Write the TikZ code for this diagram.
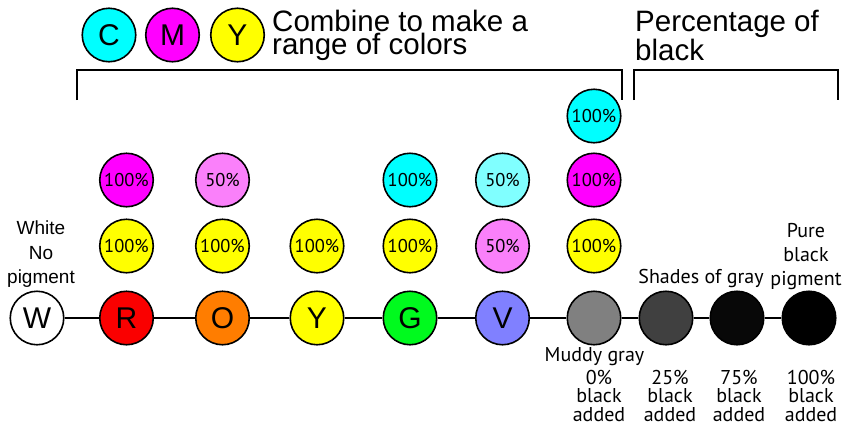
\documentclass[tikz,border=0pt]{standalone}
\usepackage{fontspec}
\setmainfont{Liberation Sans}
\newfontfamily\labelfont{PT Sans}

\definecolor{inkcyan}{RGB}{0,255,255}
\definecolor{inkmagenta}{RGB}{255,0,255}
\definecolor{inkyellow}{RGB}{255,255,0}
\definecolor{halfcyan}{RGB}{128,255,255}
\definecolor{halfmagenta}{RGB}{250,128,250}
\definecolor{mixred}{RGB}{250,0,0}
\definecolor{mixorange}{RGB}{255,125,0}
\definecolor{mixgreen}{RGB}{0,250,30}
\definecolor{mixviolet}{RGB}{128,128,255}
\definecolor{muddy}{RGB}{128,128,128}
\definecolor{shade25}{RGB}{64,64,64}
\definecolor{shade75}{RGB}{8,8,8}

\begin{document}
\begin{tikzpicture}[x=1pt,y=-1pt,
    dot/.style={shape=circle,draw,line width=1.6pt,minimum size=53.5pt,inner sep=0pt,
                font=\fontsize{30}{30}\selectfont},
    ink/.style={shape=circle,draw,line width=1.6pt,minimum size=53.5pt,inner sep=0pt,
                font=\labelfont\fontsize{18.5}{18.5}\selectfont},
    title/.style={anchor=north west,align=left,inner sep=0pt,
                  font=\fontsize{29.5}{23}\selectfont},
    note/.style={align=center,inner sep=0pt,font=\labelfont\fontsize{20}{18.5}\selectfont},
    bracket/.style={line width=1.8pt}]
    \useasboundingbox (0,0) rectangle (843,429);

    % CMY key
    \node[dot,fill=inkcyan] (c) at (109,35) {C};
    \node[dot,fill=inkmagenta] (m) at (172.5,35) {M};
    \node[dot,fill=inkyellow] (y) at (237.5,35) {Y};
    \node[title] (combine) at (272,10) {Combine to make a\\range of colors};
    \node[title] (percent) at (635,10) {Percentage of\\black};
    \draw[bracket] (77,100) -- (77,70) -- (622,70) -- (622,100);
    \draw[bracket] (634,100) -- (634,70) -- (838,70) -- (838,100);

    % main row
    \node[dot,fill=white] (w) at (37,318) {W};
    \node[dot,fill=mixred] (r) at (126.5,318) {R};
    \node[dot,fill=mixorange] (o) at (222.5,318) {O};
    \node[dot,fill=inkyellow] (yl) at (317,318) {Y};
    \node[dot,fill=mixgreen] (g) at (410,318) {G};
    \node[dot,fill=mixviolet] (v) at (502.5,318) {V};
    \node[dot,fill=muddy] (mu) at (594,318) {};
    \node[dot,fill=shade25] (k25) at (666,318) {};
    \node[dot,fill=shade75] (k75) at (737,318) {};
    \node[dot,fill=black] (k100) at (809,318) {};
    \draw[line width=1.6pt] (w) -- (r) -- (o) -- (yl) -- (g) -- (v) -- (mu) -- (k25) -- (k75) -- (k100);

    % ink amounts
    \node[ink,fill=inkyellow] (ry) at (126.5,246) {100\%};
    \node[ink,fill=inkmagenta] (rm) at (126.5,180) {100\%};
    \node[ink,fill=inkyellow] (oy) at (222.5,246) {100\%};
    \node[ink,fill=halfmagenta] (om) at (222.5,180) {50\%};
    \node[ink,fill=inkyellow] (yy) at (317,246) {100\%};
    \node[ink,fill=inkyellow] (gy) at (410,246) {100\%};
    \node[ink,fill=inkcyan] (gc) at (410,180) {100\%};
    \node[ink,fill=halfmagenta] (vm) at (502.5,246) {50\%};
    \node[ink,fill=halfcyan] (vc) at (502.5,180) {50\%};
    \node[ink,fill=inkyellow] (muy) at (594,246) {100\%};
    \node[ink,fill=inkmagenta] (mum) at (594,180) {100\%};
    \node[ink,fill=inkcyan] (muc) at (594,116) {100\%};

    % labels
    \node[note,anchor=north,font=\fontsize{19}{24.5}\selectfont] (white) at (41,221) {White\\No\\pigment};
    \node[note,anchor=base] (shades) at (701,283) {Shades of gray};
    \node[note,anchor=north,font=\labelfont\fontsize{20}{24}\selectfont] (pure) at (806,223) {Pure\\black\\pigment};
    \node[note,anchor=base] (muddylabel) at (594.5,361) {Muddy gray};
    \node[note,anchor=north] (b0) at (599,370) {0\%\\black\\added};
    \node[note,anchor=north] (b25) at (670,370) {25\%\\black\\added};
    \node[note,anchor=north] (b75) at (739,370) {75\%\\black\\added};
    \node[note,anchor=north] (b100) at (811,370) {100\%\\black\\added};
\end{tikzpicture}
\end{document}
